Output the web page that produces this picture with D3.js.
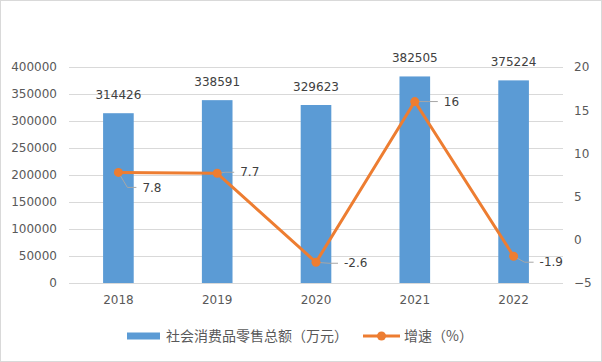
<!DOCTYPE html>
<html>
<head>
<meta charset="utf-8">
<script src="https://cdn.jsdelivr.net/npm/d3@7"></script>
<style>
  body { margin: 0; background: #fff; }
  svg { font-family: "Noto Sans CJK SC", "Liberation Sans", sans-serif; }
</style>
</head>
<body>
<script>
const width = 602;
const height = 362;
const margin = ({top: 67, right: 39, bottom: 79, left: 69});

const years = ["2018", "2019", "2020", "2021", "2022"];
const sales = [314426, 338591, 329623, 382505, 375224];
const growth = [7.8, 7.7, -2.6, 16, -1.9];
const leftTicks = [0, 50000, 100000, 150000, 200000, 250000, 300000, 350000, 400000];
const rightTicks = [-5, 0, 5, 10, 15, 20];
const seriesNames = ["社会消费品零售总额（万元）", "增速（%）"];

const barColor = "#5B9BD5";
const lineColor = "#ED7D31";
const textColor = "#595959";
const numFont = "DejaVu Sans, sans-serif";

const svg = d3.select("body")
  .append("svg")
  .attr("width", width)
  .attr("height", height);

svg.append("rect")
  .attr("x", 0.5).attr("y", 0.5)
  .attr("width", width - 1).attr("height", height - 1)
  .attr("fill", "#fff").attr("stroke", "#d9d9d9");

const x = d3.scaleBand()
  .domain(years)
  .range([margin.left, width - margin.right])
  .paddingInner(0.69).paddingOuter(0.345);

const xc = d => x(d) + x.bandwidth() / 2;

const y = d3.scaleLinear()
  .domain([0, 400000])
  .range([height - margin.bottom, margin.top]);

const y2 = d3.scaleLinear()
  .domain([-5, 20])
  .range([height - margin.bottom, margin.top]);

// gridlines
svg.append("g")
  .selectAll("line")
  .data(leftTicks)
  .join("line")
  .attr("x1", margin.left).attr("x2", width - margin.right)
  .attr("y1", d => Math.round(y(d)) + 0.5).attr("y2", d => Math.round(y(d)) + 0.5)
  .attr("stroke", "#d9d9d9");

// left axis
svg.append("g")
  .attr("transform", `translate(${margin.left - 12},0)`)
  .call(d3.axisLeft(y).tickValues(leftTicks).tickFormat(d3.format("d")).tickSize(0).tickPadding(0))
  .call(g => g.select(".domain").remove())
  .call(g => g.selectAll("text").attr("fill", textColor).attr("font-size", 12)
    .attr("font-family", numFont));

// right axis
svg.append("g")
  .attr("transform", `translate(${width - margin.right + 11},0)`)
  .call(d3.axisRight(y2).tickValues(rightTicks).tickSize(0).tickPadding(0))
  .call(g => g.select(".domain").remove())
  .call(g => g.selectAll("text").attr("fill", textColor).attr("font-size", 12)
    .attr("font-family", numFont));

// x axis labels
svg.append("g")
  .attr("transform", `translate(0,${height - margin.bottom + 8})`)
  .call(d3.axisBottom(x).tickSize(0).tickPadding(4))
  .call(g => g.select(".domain").remove())
  .call(g => g.selectAll("text").attr("fill", textColor).attr("font-size", 12)
    .attr("font-family", numFont));

const data = years.map((yr, i) => ({year: yr, sales: sales[i], growth: growth[i]}));

// bars
svg.append("g")
  .selectAll("rect")
  .data(data)
  .join("rect")
  .attr("x", d => x(d.year))
  .attr("y", d => y(d.sales))
  .attr("width", x.bandwidth())
  .attr("height", d => y(0) - y(d.sales))
  .attr("fill", barColor);

svg.append("g")
  .selectAll("text")
  .data(data)
  .join("text")
  .attr("x", d => xc(d.year))
  .attr("y", d => y(d.sales) - 14)
  .attr("text-anchor", "middle")
  .attr("fill", "#404040")
  .attr("font-size", 12)
  .attr("font-family", numFont)
  .text(d => d.sales);

// line
const line = d3.line()
  .x(d => xc(d.year))
  .y(d => y2(d.growth));

svg.append("path")
  .datum(data)
  .attr("d", line)
  .attr("fill", "none")
  .attr("stroke", lineColor)
  .attr("stroke-width", 3)
  .attr("stroke-linejoin", "round");

// line labels with leader lines
const labelOffsets = [
  {dx: 24, dy: 15},
  {dx: 23, dy: -1},
  {dx: 28, dy: 1},
  {dx: 29, dy: 0},
  {dx: 26, dy: 6}
];

const lbl = svg.append("g")
  .selectAll("g")
  .data(data)
  .join("g");

lbl.append("polyline")
  .attr("points", (d, i) => {
    const px = xc(d.year), py = y2(d.growth);
    const o = labelOffsets[i];
    return `${px},${py} ${px + o.dx - 15},${py + o.dy} ${px + o.dx - 6},${py + o.dy}`;
  })
  .attr("fill", "none")
  .attr("stroke", "#a6a6a6")
  .attr("stroke-width", 1);

lbl.append("text")
  .attr("x", (d, i) => xc(d.year) + labelOffsets[i].dx)
  .attr("y", (d, i) => y2(d.growth) + labelOffsets[i].dy)
  .attr("dy", "0.35em")
  .attr("fill", "#404040")
  .attr("font-size", 12)
  .attr("font-family", numFont)
  .text(d => d.growth);

svg.append("g")
  .selectAll("circle")
  .data(data)
  .join("circle")
  .attr("cx", d => xc(d.year))
  .attr("cy", d => y2(d.growth))
  .attr("r", 4.5)
  .attr("fill", lineColor);

// legend
const lg = svg.append("g").attr("transform", "translate(127,336)");
lg.append("rect")
  .attr("x", 0).attr("y", -3.5)
  .attr("width", 33).attr("height", 7)
  .attr("fill", barColor);
lg.append("text")
  .attr("x", 39).attr("y", 0).attr("dy", "0.35em")
  .attr("fill", textColor).attr("font-size", 14)
  .text(seriesNames[0]);
lg.append("line")
  .attr("x1", 236).attr("x2", 273)
  .attr("y1", 0).attr("y2", 0)
  .attr("stroke", lineColor).attr("stroke-width", 3);
lg.append("circle")
  .attr("cx", 254.5).attr("cy", 0).attr("r", 4.5)
  .attr("fill", lineColor);
lg.append("text")
  .attr("x", 277).attr("y", 0).attr("dy", "0.35em")
  .attr("fill", textColor).attr("font-size", 14)
  .text(seriesNames[1]);
</script>
</body>
</html>
